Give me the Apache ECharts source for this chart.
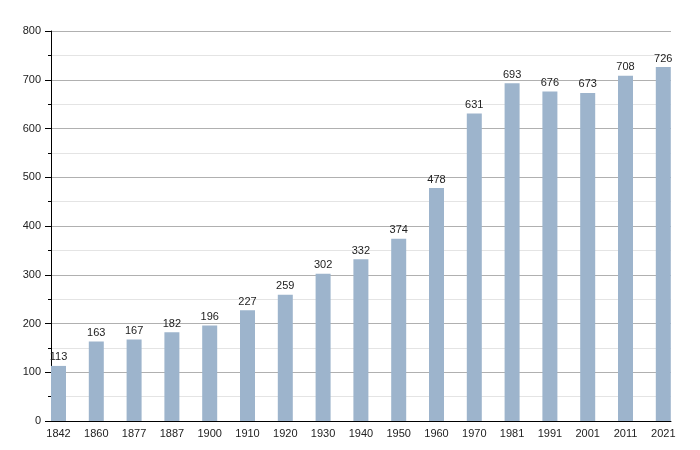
<!DOCTYPE html>
<html><head><meta charset="utf-8">
<script src="https://cdn.jsdelivr.net/npm/echarts@6/dist/echarts.min.js"></script>
<style>html,body{margin:0;padding:0;background:#fff}#c{width:700px;height:450px}</style>
</head><body><div id="c"></div>
<script>
const years = ['1842','1860','1877','1887','1900','1910','1920','1930','1940','1950','1960','1970','1981','1991','2001','2011','2021'];
const population = [113,163,167,182,196,227,259,302,332,374,478,631,693,676,673,708,726];
const yTicks = [0,100,200,300,400,500,600,700,800];

const chart = echarts.init(document.getElementById('c'));
const font = {fontFamily:'Liberation Sans, Arial, sans-serif', fontSize:11, color:'#222'};
chart.setOption({
  animation:false,
  grid:[
    {left:51, right:29, top:31, bottom:29},
    {left:39.6, right:17.8, top:31, bottom:29}
  ],
  xAxis:[
    {type:'value', gridIndex:0, min:0, max:1, axisLabel:{show:false}, axisTick:{show:false}, splitLine:{show:false},
     axisLine:{show:true, lineStyle:{color:'#000', width:1}}},
    {type:'category', gridIndex:1, data:years, axisLine:{show:false}, axisTick:{show:false},
     axisLabel:Object.assign({margin:7}, font)}
  ],
  yAxis:[
    {type:'value', gridIndex:0, min:yTicks[0], max:yTicks[yTicks.length-1], interval:100,
     axisLine:{show:true, lineStyle:{color:'#000', width:1}},
     axisTick:{show:true, length:6, lineStyle:{color:'#000'}},
     minorTick:{show:true, splitNumber:2, length:3, lineStyle:{color:'#000'}},
     splitLine:{show:true, lineStyle:{color:'#b0b0b0', width:1}},
     minorSplitLine:{show:true, lineStyle:{color:'#e4e4e4', width:1}},
     axisLabel:Object.assign({margin:10}, font)},
    {type:'value', gridIndex:1, min:0, max:800, show:false}
  ],
  series:[{
    type:'bar', xAxisIndex:1, yAxisIndex:1, data:population, barWidth:15,
    itemStyle:{color:'#9db4cc'},
    label:Object.assign({show:true, position:'top', distance:3}, font)
  }]
});
</script></body></html>
